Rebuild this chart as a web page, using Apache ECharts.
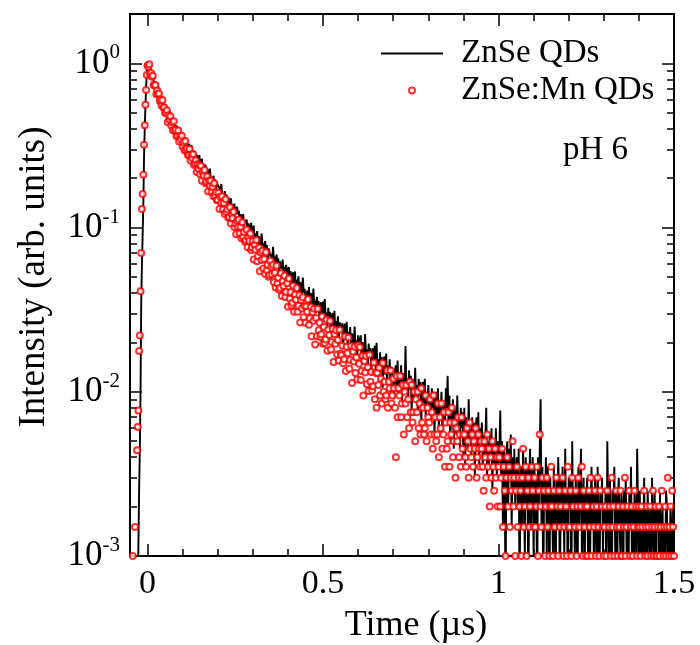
<!DOCTYPE html>
<html><head><meta charset="utf-8">
<script src="https://cdn.jsdelivr.net/npm/echarts@6/dist/echarts.min.js"></script>
<style>html,body{margin:0;padding:0;background:#fff}#c{width:700px;height:645px}</style>
</head><body><div id="c"></div>
<script>
// time axis (µs)
const times = [
-0.044,-0.042,-0.04,-0.038,-0.036,-0.034,-0.032,-0.03,-0.028,-0.026,-0.024,-0.022,-0.02,-0.018,-0.016,-0.014,-0.012,-0.01,-0.008,-0.006,-0.004,-0.002,0,
0.0025,0.005,0.0075,0.01,0.0125,0.015,0.0175,0.02,0.0225,0.025,0.0275,0.03,0.0325,0.035,0.0375,0.04,0.0425,0.045,0.0475,0.05,
0.0525,0.055,0.0575,0.06,0.0625,0.065,0.0675,0.07,0.0725,0.075,0.0775,0.08,0.0825,0.085,0.0875,0.09,0.0925,0.095,0.0975,0.1,
0.1025,0.105,0.1075,0.11,0.1125,0.115,0.1175,0.12,0.1225,0.125,0.1275,0.13,0.1325,0.135,0.1375,0.14,0.1425,0.145,0.1475,0.15,
0.1525,0.155,0.1575,0.16,0.1625,0.165,0.1675,0.17,0.1725,0.175,0.1775,0.18,0.1825,0.185,0.1875,0.19,0.1925,0.195,0.1975,0.2,
0.2025,0.205,0.2075,0.21,0.2125,0.215,0.2175,0.22,0.2225,0.225,0.2275,0.23,0.2325,0.235,0.2375,0.24,0.2425,0.245,0.2475,0.25,
0.2525,0.255,0.2575,0.26,0.2625,0.265,0.2675,0.27,0.2725,0.275,0.2775,0.28,0.2825,0.285,0.2875,0.29,0.2925,0.295,0.2975,0.3,
0.3025,0.305,0.3075,0.31,0.3125,0.315,0.3175,0.32,0.3225,0.325,0.3275,0.33,0.3325,0.335,0.3375,0.34,0.3425,0.345,0.3475,0.35,
0.3525,0.355,0.3575,0.36,0.3625,0.365,0.3675,0.37,0.3725,0.375,0.3775,0.38,0.3825,0.385,0.3875,0.39,0.3925,0.395,0.3975,0.4,
0.4025,0.405,0.4075,0.41,0.4125,0.415,0.4175,0.42,0.4225,0.425,0.4275,0.43,0.4325,0.435,0.4375,0.44,0.4425,0.445,0.4475,0.45,
0.4525,0.455,0.4575,0.46,0.4625,0.465,0.4675,0.47,0.4725,0.475,0.4775,0.48,0.4825,0.485,0.4875,0.49,0.4925,0.495,0.4975,0.5,
0.5025,0.505,0.5075,0.51,0.5125,0.515,0.5175,0.52,0.5225,0.525,0.5275,0.53,0.5325,0.535,0.5375,0.54,0.5425,0.545,0.5475,0.55,
0.5525,0.555,0.5575,0.56,0.5625,0.565,0.5675,0.57,0.5725,0.575,0.5775,0.58,0.5825,0.585,0.5875,0.59,0.5925,0.595,0.5975,0.6,
0.6025,0.605,0.6075,0.61,0.6125,0.615,0.6175,0.62,0.6225,0.625,0.6275,0.63,0.6325,0.635,0.6375,0.64,0.6425,0.645,0.6475,0.65,
0.6525,0.655,0.6575,0.66,0.6625,0.665,0.6675,0.67,0.6725,0.675,0.6775,0.68,0.6825,0.685,0.6875,0.69,0.6925,0.695,0.6975,0.7,
0.7025,0.705,0.7075,0.71,0.7125,0.715,0.7175,0.72,0.7225,0.725,0.7275,0.73,0.7325,0.735,0.7375,0.74,0.7425,0.745,0.7475,0.75,
0.7525,0.755,0.7575,0.76,0.7625,0.765,0.7675,0.77,0.7725,0.775,0.7775,0.78,0.7825,0.785,0.7875,0.79,0.7925,0.795,0.7975,0.8,
0.8025,0.805,0.8075,0.81,0.8125,0.815,0.8175,0.82,0.8225,0.825,0.8275,0.83,0.8325,0.835,0.8375,0.84,0.8425,0.845,0.8475,0.85,
0.8525,0.855,0.8575,0.86,0.8625,0.865,0.8675,0.87,0.8725,0.875,0.8775,0.88,0.8825,0.885,0.8875,0.89,0.8925,0.895,0.8975,0.9,
0.9025,0.905,0.9075,0.91,0.9125,0.915,0.9175,0.92,0.9225,0.925,0.9275,0.93,0.9325,0.935,0.9375,0.94,0.9425,0.945,0.9475,0.95,
0.9525,0.955,0.9575,0.96,0.9625,0.965,0.9675,0.97,0.9725,0.975,0.9775,0.98,0.9825,0.985,0.9875,0.99,0.9925,0.995,0.9975,1,
1.0025,1.005,1.0075,1.01,1.0125,1.015,1.0175,1.02,1.0225,1.025,1.0275,1.03,1.0325,1.035,1.0375,1.04,1.0425,1.045,1.0475,1.05,
1.0525,1.055,1.0575,1.06,1.0625,1.065,1.0675,1.07,1.0725,1.075,1.0775,1.08,1.0825,1.085,1.0875,1.09,1.0925,1.095,1.0975,1.1,
1.1025,1.105,1.1075,1.11,1.1125,1.115,1.1175,1.12,1.1225,1.125,1.1275,1.13,1.1325,1.135,1.1375,1.14,1.1425,1.145,1.1475,1.15,
1.1525,1.155,1.1575,1.16,1.1625,1.165,1.1675,1.17,1.1725,1.175,1.1775,1.18,1.1825,1.185,1.1875,1.19,1.1925,1.195,1.1975,1.2,
1.2025,1.205,1.2075,1.21,1.2125,1.215,1.2175,1.22,1.2225,1.225,1.2275,1.23,1.2325,1.235,1.2375,1.24,1.2425,1.245,1.2475,1.25,
1.2525,1.255,1.2575,1.26,1.2625,1.265,1.2675,1.27,1.2725,1.275,1.2775,1.28,1.2825,1.285,1.2875,1.29,1.2925,1.295,1.2975,1.3,
1.3025,1.305,1.3075,1.31,1.3125,1.315,1.3175,1.32,1.3225,1.325,1.3275,1.33,1.3325,1.335,1.3375,1.34,1.3425,1.345,1.3475,1.35,
1.3525,1.355,1.3575,1.36,1.3625,1.365,1.3675,1.37,1.3725,1.375,1.3775,1.38,1.3825,1.385,1.3875,1.39,1.3925,1.395,1.3975,1.4,
1.4025,1.405,1.4075,1.41,1.4125,1.415,1.4175,1.42,1.4225,1.425,1.4275,1.43,1.4325,1.435,1.4375,1.44,1.4425,1.445,1.4475,1.45,
1.4525,1.455,1.4575,1.46,1.4625,1.465,1.4675,1.47,1.4725,1.475,1.4775,1.48,1.4825,1.485,1.4875,1.49,1.4925,1.495,1.4975,1.5
];
// ZnSe QDs (black line); 0.0005 = zero counts (below the axis floor)
const znseQDs = [
0.0005,0.0005,0.0005,0.0005,0.0005,0.0005,0.0005,0.0005,0.0005,0.0012,0.0025,0.0045,0.010,0.035,0.06,0.09,0.14,0.27,0.40,0.55,0.72,0.88,0.98,
1.0,0.955,0.963,0.863,0.868,0.825,0.824,0.74,0.756,0.72,0.685,0.711,0.652,0.649,0.609,0.626,0.59,0.59,0.541,0.557,
0.509,0.536,0.512,0.486,0.519,0.472,0.474,0.44,0.466,0.435,0.44,0.396,0.419,0.418,0.389,0.409,0.367,0.38,0.364,0.374,
0.358,0.328,0.356,0.33,0.339,0.3,0.324,0.324,0.299,0.319,0.281,0.295,0.282,0.294,0.257,0.278,0.266,0.252,0.276,0.247,
0.241,0.262,0.226,0.24,0.229,0.242,0.207,0.227,0.217,0.204,0.229,0.201,0.205,0.186,0.207,0.19,0.197,0.17,0.187,0.189,
0.182,0.174,0.165,0.184,0.162,0.165,0.15,0.167,0.153,0.159,0.138,0.152,0.153,0.139,0.151,0.131,0.139,0.132,0.14,0.12,
0.118,0.134,0.121,0.127,0.108,0.121,0.122,0.11,0.121,0.102,0.111,0.106,0.112,0.094,0.106,0.1,0.094,0.107,0.093,0.095,
0.103,0.083,0.0923,0.087,0.0952,0.076,0.0886,0.0835,0.0771,0.092,0.077,0.0802,0.0699,0.0827,0.0734,0.0783,0.064,0.0747,0.0761,0.0669,
0.069,0.0638,0.0763,0.0638,0.0665,0.058,0.0686,0.061,0.0651,0.0533,0.0623,0.0636,0.0559,0.0639,0.0518,0.0576,0.0543,0.0594,0.0475,0.0554,
0.0575,0.05,0.0544,0.0426,0.0519,0.0534,0.0458,0.0541,0.042,0.0481,0.045,0.0505,0.0385,0.0467,0.0437,0.0399,0.0496,0.0402,0.0424,0.036,
0.0356,0.0413,0.0384,0.0435,0.0322,0.04,0.0372,0.0336,0.0426,0.0339,0.0359,0.0301,0.0379,0.0325,0.0357,0.0273,0.034,0.035,0.0296,0.0355,
0.0276,0.0367,0.0282,0.0304,0.0247,0.0325,0.0273,0.0306,0.0224,0.029,0.0302,0.025,0.0311,0.0225,0.027,0.0249,0.0288,0.0205,0.0265,0.0245,
0.0231,0.0262,0.0187,0.0248,0.026,0.0212,0.0267,0.019,0.0231,0.0212,0.0248,0.0172,0.0227,0.0209,0.0185,0.025,0.019,0.0206,0.0164,0.0221,
0.0203,0.0185,0.0221,0.0146,0.0201,0.0183,0.0159,0.0225,0.0165,0.0181,0.0141,0.0197,0.016,0.0185,0.0126,0.0175,0.0184,0.0147,0.0191,0.013,
0.0199,0.0142,0.0158,0.0119,0.0174,0.014,0.0163,0.0106,0.0154,0.0164,0.0127,0.0171,0.0111,0.0144,0.0129,0.0158,0.0099,0.0142,0.0129,0.0111,
0.009,0.0135,0.0145,0.011,0.0155,0.0095,0.013,0.0115,0.0145,0.0085,0.013,0.0115,0.01,0.019,0.0105,0.012,0.0085,0.0135,0.0105,0.0125,
0.0075,0.012,0.0105,0.009,0.014,0.0095,0.011,0.0075,0.012,0.0095,0.0115,0.0065,0.0105,0.0115,0.0085,0.012,0.007,0.01,0.0085,0.011,
0.008,0.0095,0.0065,0.0105,0.008,0.01,0.0055,0.009,0.01,0.007,0.0105,0.006,0.0085,0.0075,0.01,0.0055,0.0085,0.0075,0.0065,0.0105,
0.008,0.0125,0.0065,0.0095,0.005,0.0075,0.0065,0.009,0.0045,0.008,0.007,0.0055,0.0095,0.006,0.007,0.0045,0.008,0.006,0.0075,0.004,
0.008,0.0035,0.007,0.006,0.0045,0.009,0.005,0.006,0.004,0.007,0.005,0.0065,0.003,0.006,0.007,0.0045,0.0075,0.0035,0.006,0.005,
0.0065,0.0035,0.0055,0.004,0.005,0.008,0.003,0.005,0.0035,0.0055,0.004,0.006,0.0025,0.005,0.0045,0.0035,0.006,0.003,0.005,0.0035,
0.0045,0.0077,0.003,0.005,0.0015,0.0045,0.0035,0.0005,0.004,0.005,0.002,0.0045,0.003,0.0055,0.0015,0.004,0.0025,0.0045,0.002,0.0035,
0.004,0.002,0.0045,0.0005,0.003,0.0035,0.0015,0.0045,0.0025,0.001,0.004,0.002,0.0035,0.0005,0.003,0.0045,0.0015,0.0025,0.004,0.001,
0.0035,0.0015,0.003,0.0005,0.004,0.002,0.0045,0.009,0.0015,0.0035,0.0005,0.003,0.002,0.004,0.001,0.0035,0.0025,0.0005,0.003,0.0015,
0.0025,0.001,0.0035,0.002,0.0005,0.003,0.0015,0.004,0.0025,0.0005,0.003,0.0015,0.0035,0.002,0.001,0.0045,0.0015,0.0025,0.0005,0.003,
0.002,0.003,0.0005,0.005,0.0015,0.0025,0.001,0.003,0.002,0.0005,0.0035,0.0015,0.0025,0.0045,0.001,0.002,0.003,0.0005,0.0025,0.0015,
0.003,0.001,0.0025,0.0005,0.002,0.0035,0.0015,0.0025,0.0005,0.003,0.002,0.001,0.0035,0.0015,0.0005,0.0025,0.002,0.003,0.001,0.002,
0.0015,0.0025,0.0005,0.005,0.002,0.001,0.003,0.0015,0.0005,0.0025,0.002,0.0035,0.001,0.0025,0.0005,0.002,0.003,0.0015,0.001,0.0025,
0.002,0.0005,0.0025,0.0015,0.003,0.001,0.002,0.0005,0.0025,0.0015,0.0035,0.001,0.002,0.0005,0.0025,0.0015,0.001,0.0045,0.002,0.0005,
0.0025,0.001,0.002,0.0005,0.0015,0.003,0.001,0.002,0.0005,0.0025,0.0015,0.001,0.002,0.0005,0.003,0.0015,0.001,0.0025,0.0005,0.002,
0.0015,0.002,0.0005,0.0025,0.001,0.0015,0.002,0.0005,0.0015,0.001,0.0025,0.002,0.0005,0.0015,0.001,0.002,0.0015,0.0005,0.002,0.001
];
// ZnSe:Mn QDs (red circles); null = zero counts
const znseMnQDs = [
null,0.001,null,null,0.0015,null,null,0.0044,0.0061,0.0077,0.0177,0.022,0.041,0.07,0.13,0.16,0.21,0.32,0.42,0.56,0.69,0.85,0.97,
0.956,0.99,0.857,0.874,0.83,0.842,0.742,0.731,0.738,0.649,0.683,0.645,0.655,0.59,0.602,0.554,0.597,0.539,0.539,0.501,
0.501,0.519,0.439,0.484,0.454,0.477,0.419,0.438,0.392,0.444,0.388,0.395,0.361,0.362,0.391,0.334,0.36,0.345,0.363,0.312,
0.329,0.296,0.337,0.296,0.303,0.277,0.277,0.301,0.256,0.278,0.265,0.28,0.241,0.246,0.257,0.218,0.243,0.228,0.241,0.211,
0.237,0.193,0.217,0.207,0.224,0.186,0.191,0.205,0.166,0.193,0.18,0.193,0.165,0.177,0.155,0.186,0.157,0.164,0.147,0.148,
0.163,0.13,0.154,0.141,0.155,0.129,0.141,0.121,0.149,0.124,0.129,0.115,0.116,0.133,0.106,0.12,0.114,0.125,0.101,0.106,
0.091,0.11,0.101,0.112,0.092,0.101,0.086,0.108,0.088,0.094,0.082,0.084,0.097,0.076,0.087,0.083,0.092,0.073,0.076,0.083,
0.0639,0.0784,0.0732,0.0842,0.0625,0.0669,0.0755,0.0542,0.0705,0.0634,0.0723,0.0564,0.0643,0.0521,0.0707,0.055,0.0593,0.0502,0.0515,0.0629,
0.0577,0.052,0.0594,0.0465,0.0531,0.0432,0.0586,0.0457,0.0495,0.0419,0.0431,0.0527,0.0383,0.0471,0.0441,0.0509,0.0378,0.0406,0.0459,0.033,
0.049,0.0369,0.0406,0.0336,0.0349,0.0442,0.0307,0.0391,0.0364,0.0429,0.0307,0.0334,0.0388,0.0264,0.0362,0.0322,0.0377,0.0285,0.0333,0.0263,
0.0331,0.0307,0.0366,0.0256,0.0281,0.0328,0.0218,0.0306,0.0271,0.032,0.0194,0.0282,0.0218,0.0321,0.0237,0.0263,0.0216,0.0224,0.0288,0.0196,
0.0248,0.0198,0.0208,0.0276,0.0178,0.024,0.0222,0.027,0.0181,0.0201,0.0241,0.0152,0.0225,0.0196,0.0237,0.0169,0.0207,0.0155,0.0239,0.0171,
0.0167,0.0191,0.0149,0.0158,0.0217,0.0134,0.0188,0.0172,0.0214,0.0138,0.0156,0.019,0.0113,0.0176,0.0153,0.0188,0.013,0.0162,0.0119,0.0192,
0.0148,0.0187,0.0118,0.0134,0.0166,0.0095,0.0154,0.0131,0.0165,0.0111,0.0141,0.0101,0.0168,0.0115,0.0132,0.0102,0.0108,0.0151,0.009,0.013,
0.008,0.013,0.011,0.014,0.0095,0.012,0.0085,0.015,0.01,0.0115,0.009,0.0095,0.0135,0.008,0.0115,0.0105,0.0135,0.0085,0.0095,0.012,
0.0105,0.008,0.004,0.0125,0.007,0.0105,0.0095,0.0125,0.007,0.0085,0.011,0.0055,0.01,0.0085,0.011,0.007,0.009,0.006,0.0115,0.0075,
0.011,0.0065,0.0075,0.01,0.005,0.009,0.0075,0.01,0.006,0.0085,0.0055,0.0105,0.0065,0.008,0.0055,0.006,0.0095,0.005,0.008,0.007,
0.0065,0.009,0.0055,0.0075,0.0045,0.0095,0.0055,0.007,0.005,0.0055,0.0085,0.004,0.007,0.006,0.0085,0.0045,0.0055,0.0075,0.0035,0.0065,
0.0045,0.005,0.0075,0.0035,0.0065,0.0055,0.008,0.004,0.005,0.0065,0.003,0.006,0.005,0.007,0.004,0.0055,0.0035,0.007,0.0045,0.0055,
0.0055,0.004,0.0035,0.006,0.005,0.003,0.0065,0.0045,0.004,0.0055,0.0035,0.005,0.0045,0.006,0.003,0.004,0.0055,0.0045,0.0035,0.005,
0.0045,0.0035,0.0025,0.005,0.004,0.003,0.0055,0.0035,0.0045,0.002,0.004,0.003,0.005,0.0035,0.0025,0.0045,0.003,0.004,0.002,0.0035,
0.004,0.002,0.003,0.0045,0.0015,0.0035,0.0025,0.001,0.003,0.004,0.002,0.0035,0.0015,0.003,0.0025,0.005,0.002,0.003,0.001,0.0025,
0.0035,0.0015,0.003,0.002,0.0025,0.001,0.003,0.0045,0.0015,0.002,0.0035,0.001,0.0025,0.003,0.0015,0.002,null,0.0035,0.0025,0.0015,
0.003,0.0015,0.002,0.0035,0.001,0.0025,0.0055,0.002,0.0015,0.003,null,0.0025,0.001,0.002,0.003,0.0015,0.0025,0.001,0.002,0.0035,
0.002,0.001,0.0025,0.0015,null,0.003,0.002,0.001,0.0025,0.0015,0.002,null,0.003,0.001,0.0015,0.0025,0.002,0.001,0.0035,0.0015,
0.0015,0.0025,0.001,0.003,0.002,null,0.0015,0.0025,0.001,0.002,0.003,0.0015,null,0.002,0.0035,0.001,0.0025,0.0015,0.002,0.001,
0.002,0.001,0.0025,0.0015,0.003,0.001,null,0.002,0.0015,0.0025,0.001,0.002,0.003,0.0015,0.001,0.0025,null,0.002,0.0015,0.001,
0.0015,0.002,0.001,0.0025,null,0.0015,0.002,0.001,0.003,0.0015,0.002,0.001,null,0.0025,0.0015,0.001,0.002,0.0015,0.0025,0.001,
0.001,0.002,0.0015,0.003,0.001,0.0015,0.002,null,0.0025,0.001,0.0015,0.002,0.001,0.0015,0.0025,null,0.002,0.001,0.0015,0.002,
0.0015,0.001,0.002,0.0015,null,0.0025,0.001,0.0015,0.002,0.001,0.0015,null,0.002,0.001,0.0015,0.0025,0.001,0.0015,0.002,0.001,
0.001,0.0015,0.002,0.001,0.0015,0.0025,null,0.001,0.0015,0.002,0.001,0.0015,0.003,0.001,0.0015,0.002,0.001,0.0025,0.0015,0.001
];
const xMajorTicks = [0, 0.5, 1, 1.5];
const xMinorTicks = [0.1,0.2,0.3,0.4,0.6,0.7,0.8,0.9,1.1,1.2,1.3,1.4];
const yMajorTicks = [0.001, 0.01, 0.1, 1];
const yMinorTicks = [0.002,0.003,0.004,0.005,0.006,0.007,0.008,0.009,
  0.02,0.03,0.04,0.05,0.06,0.07,0.08,0.09,0.2,0.3,0.4,0.5,0.6,0.7,0.8,0.9];
const seriesNames = ['ZnSe QDs', 'ZnSe:Mn QDs'];
const xTitle = 'Time (µs)';
const yTitle = 'Intensity (arb. units)';
const noteText = 'pH 6';

const FONT = 'Liberation Serif';
const X_MIN = -0.05, X_MAX = 1.5, Y_MIN = 0.001, Y_MAX = 2;
const chart = echarts.init(document.getElementById('c'), null, {renderer: 'canvas'});

function xAx(pos, ticks, len, withLabel) {
  return {
    type: 'value', position: pos, min: X_MIN, max: X_MAX,
    axisLine: {show: true, onZero: false, lineStyle: {color: '#000', width: 2}},
    axisTick: {show: true, inside: true, length: len, customValues: ticks, lineStyle: {color: '#000', width: 1.5}},
    axisLabel: withLabel ? {show: true, customValues: ticks, formatter: v => String(v), fontFamily: FONT, fontSize: 34, color: '#000', margin: 11} : {show: false},
    splitLine: {show: false}
  };
}
function yAx(pos, ticks, len, withLabel) {
  return {
    type: 'log', logBase: 10, position: pos, min: Y_MIN, max: Y_MAX,
    axisLine: {show: true, onZero: false, lineStyle: {color: '#000', width: 2}},
    axisTick: {show: true, inside: true, length: len, customValues: ticks, lineStyle: {color: '#000', width: 1.5}},
    axisLabel: withLabel ? {
      show: true, customValues: ticks, margin: 10,
      formatter: v => '{b|10}{s|' + Math.round(Math.log10(v)) + '}',
      rich: {
        b: {fontFamily: FONT, fontSize: 35, color: '#000', lineHeight: 42},
        s: {fontFamily: FONT, fontSize: 21, color: '#000', verticalAlign: 'top', lineHeight: 22}
      }
    } : {show: false},
    splitLine: {show: false}, minorSplitLine: {show: false}
  };
}

chart.setOption({
  animation: false,
  backgroundColor: '#fff',
  grid: {left: 130, right: 26, top: 14, bottom: 89, containLabel: false},
  xAxis: [
    xAx('bottom', xMajorTicks, 12, true),
    xAx('top', xMajorTicks, 12, false),
    xAx('bottom', xMinorTicks, 7, false),
    xAx('top', xMinorTicks, 7, false)
  ],
  yAxis: [
    yAx('left', yMajorTicks, 12, true),
    yAx('right', yMajorTicks, 12, false),
    yAx('left', yMinorTicks, 7, false),
    yAx('right', yMinorTicks, 7, false)
  ],
  legend: {
    orient: 'vertical', left: 375, top: 30, padding: 5,
    itemWidth: 62, itemHeight: 6, itemGap: 0,
    textStyle: {fontFamily: FONT, fontSize: 33, color: '#000', lineHeight: 37, padding: [0, 0, 0, 13]},
    data: [
      {name: seriesNames[0], itemStyle: {opacity: 0}, lineStyle: {color: '#000', width: 2}},
      {name: seriesNames[1]}
    ]
  },
  graphic: [
    {type: 'text', x: 563, y: 150, style: {text: noteText, fontFamily: FONT, fontSize: 33, fill: '#000', align: 'left', verticalAlign: 'middle', textAlign: 'left', textVerticalAlign: 'middle'}},
    {type: 'text', x: 416, y: 626, style: {text: xTitle, fontFamily: FONT, fontSize: 36, fill: '#000', align: 'center', verticalAlign: 'middle', textAlign: 'center', textVerticalAlign: 'middle'}},
    {type: 'text', x: 34, y: 277, rotation: Math.PI / 2, style: {text: yTitle, fontFamily: FONT, fontSize: 37, fill: '#000', align: 'center', verticalAlign: 'middle', textAlign: 'center', textVerticalAlign: 'middle'}}
  ],
  series: [
    {
      name: seriesNames[0], type: 'line', xAxisIndex: 0, yAxisIndex: 0,
      data: times.map((t, i) => [t, znseQDs[i]]).filter(p => p[1] != null),
      symbol: 'none', clip: true,
      lineStyle: {color: '#000', width: 1.9}, itemStyle: {color: '#000'}, z: 2
    },
    {
      name: seriesNames[1], type: 'scatter', xAxisIndex: 0, yAxisIndex: 0,
      data: times.map((t, i) => [t, znseMnQDs[i]]).filter(p => p[1] != null),
      symbol: 'emptyCircle', symbolSize: 6,
      itemStyle: {color: '#ff0000', borderColor: '#ff0000', borderWidth: 1.6}, z: 3
    }
  ]
});
</script>
</body></html>
